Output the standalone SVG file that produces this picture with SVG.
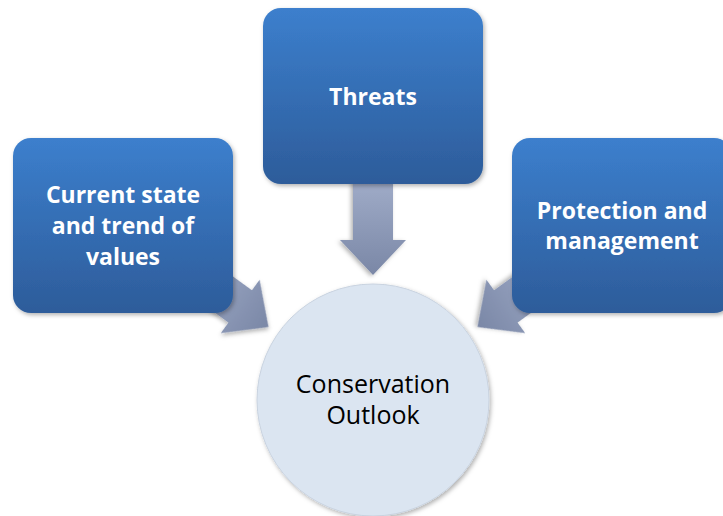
<svg xmlns="http://www.w3.org/2000/svg" width="723" height="516" viewBox="0 0 723 516">
  <defs>
    <linearGradient id="boxGrad" x1="0" y1="0" x2="0" y2="1">
      <stop offset="0" stop-color="#3c7fcd"/>
      <stop offset="1" stop-color="#2d5c9a"/>
    </linearGradient>
    <linearGradient id="arrowGrad" x1="0" y1="0" x2="1" y2="0">
      <stop offset="0" stop-color="#a2aeca"/>
      <stop offset="1" stop-color="#7a87a6"/>
    </linearGradient>
    <filter id="shadow" x="-10%" y="-10%" width="125%" height="125%">
      <feDropShadow dx="1.5" dy="2" stdDeviation="2" flood-color="#000" flood-opacity="0.3"/>
    </filter>
    <path id="arrowShape" d="M -100 -20 L -35 -20 L -35 -33 L 0 0 L -35 33 L -35 20 L -100 20 Z"/>
  </defs>
  <style>
    .box { fill: url(#boxGrad); filter: url(#shadow); }
    .boxText { font-family: "Open Sans", "Liberation Sans", sans-serif; font-weight: bold; font-size: 23px; fill: #ffffff; text-anchor: middle; }
    .arrow { fill: url(#arrowGrad); filter: url(#shadow); }
    .circleText { font-family: "Open Sans", "Liberation Sans", sans-serif; font-size: 25px; fill: #000000; text-anchor: middle; }
  </style>
  <rect width="723" height="516" fill="#ffffff"/>

  <g id="center">
    <circle cx="373" cy="400" r="116" fill="#dbe5f1" stroke="#c9d3e0" stroke-width="1" filter="url(#shadow)"/>
    <text class="circleText" x="373" y="393">Conservation</text>
    <text class="circleText" x="373" y="424">Outlook</text>
  </g>

  <g id="connectors">
    <use href="#arrowShape" class="arrow" transform="translate(373 275) rotate(90)"/>
    <use href="#arrowShape" class="arrow" transform="translate(268.5 327) rotate(36)"/>
    <use href="#arrowShape" class="arrow" transform="translate(477.5 327) rotate(144)"/>
  </g>

  <g id="current-state">
    <rect class="box" x="13" y="138" width="220" height="175" rx="18" ry="18"/>
    <text class="boxText" x="123" y="203">Current state</text>
    <text class="boxText" x="123" y="234">and trend of</text>
    <text class="boxText" x="123" y="265">values</text>
  </g>

  <g id="threats">
    <rect class="box" x="263" y="8" width="220" height="176" rx="18" ry="18"/>
    <text class="boxText" x="373" y="105">Threats</text>
  </g>

  <g id="protection">
    <rect class="box" x="512" y="138" width="220" height="175" rx="18" ry="18"/>
    <text class="boxText" x="622" y="219">Protection and</text>
    <text class="boxText" x="622" y="249">management</text>
  </g>
</svg>
